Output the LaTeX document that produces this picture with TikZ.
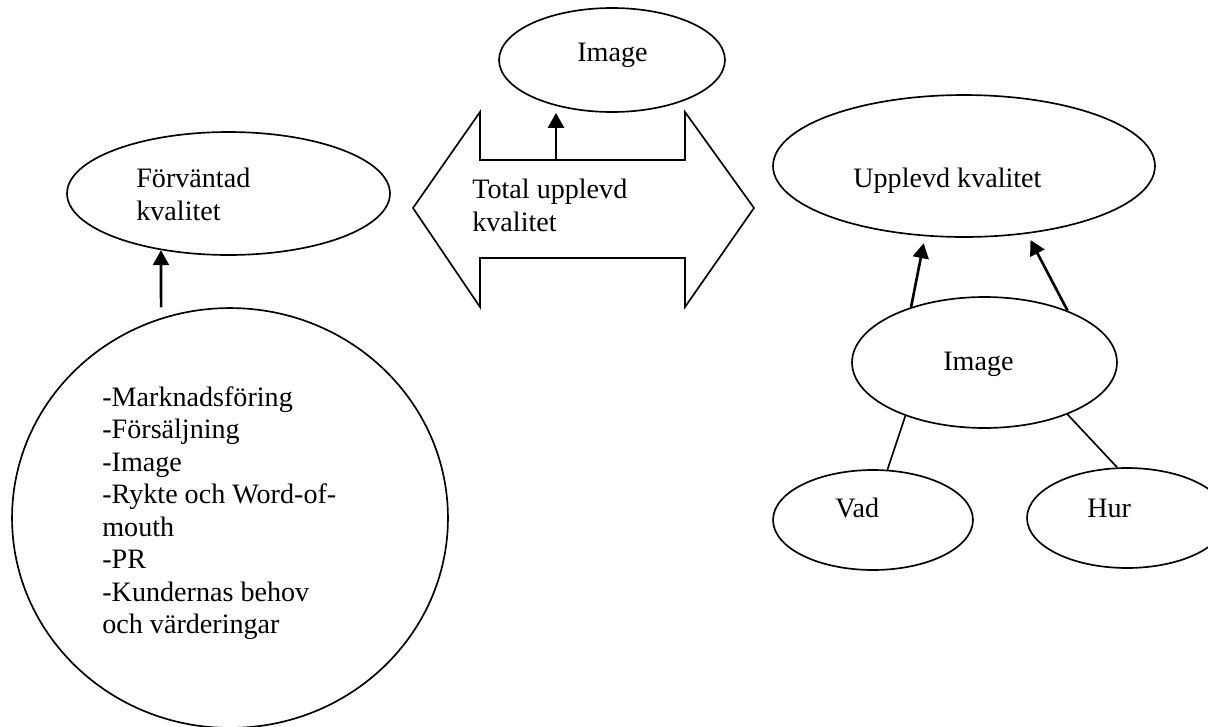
\documentclass[tikz,border=0pt]{standalone}
\usepackage{fontspec}
\setmainfont{Liberation Serif}
\usetikzlibrary{arrows.meta, shapes.geometric}

\begin{document}
\begin{tikzpicture}[x=0.02cm, y=-0.02cm,
  blob/.style={draw, ellipse, line width=0.95pt, inner sep=0pt},
  txt/.style={font=\fontsize{16pt}{18.5pt}\selectfont, inner sep=0pt, align=left},
  pil/.style={-{Triangle[length=8.5pt, width=9pt]}, line width=1.5pt},
  stem/.style={line width=0.95pt}]
  \useasboundingbox (0,0) rectangle (1208,727);

  % Left side ovals
  \node[blob, minimum width=6.46cm, minimum height=2.46cm] (forv) at (228.5,193.5) {};
  \node[blob, minimum width=8.72cm, minimum height=8.4cm] (faktor) at (230,518) {};

  \node[txt, anchor=north west] (forvText) at (136,168) {Förväntad\\kvalitet};
  \node[txt, anchor=north west] (faktorText) at (102,386)
    {-Marknadsföring\\-Försäljning\\-Image\\-Rykte och Word-of-\\mouth\\-PR\\-Kundernas behov\\och värderingar};

  % Double arrow in the middle
  \draw[line width=0.95pt] (413,208) -- (480,112) -- (480,160) -- (685,160)
    -- (685,112) -- (754,208) -- (685,307) -- (685,258) -- (480,258)
    -- (480,307) -- cycle;
  \coordinate (shaft) at (556,160);
  \node[txt, anchor=north west] (totalText) at (472,179) {Total upplevd\\kvalitet};

  \node[blob, minimum width=4.52cm, minimum height=2.08cm] (imgTop) at (612,60) {};
  \node[txt, anchor=base west] (imgTopText) at (577,61) {Image};

  % Right side ovals
  \node[blob, minimum width=7.64cm, minimum height=2.84cm] (upplevd) at (964,166) {};
  \node[blob, minimum width=5.3cm, minimum height=2.62cm] (img) at (984.5,362.5) {};
  \node[blob, minimum width=4cm, minimum height=2cm] (vad) at (873,520) {};
  \node[blob, minimum width=4cm, minimum height=2cm] (hur) at (1127,518) {};

  \node[txt, anchor=base west] (upplevdText) at (853,187) {Upplevd kvalitet};
  \node[txt, anchor=base west] (imgText) at (943,370) {Image};
  \node[txt, anchor=base west] (vadText) at (835,517) {Vad};
  \node[txt, anchor=base west] (hurText) at (1087,517) {Hur};

  % Arrows
  \draw[pil, shorten <=6pt] (faktor.109.4) -- (forv.220.5);
  \draw[pil] (shaft) -- (shaft |- imgTop.south);
  \draw[pil, shorten >=4pt] (img.143.8) -- (upplevd.241.7);
  \draw[pil, shorten >=4pt] (img.32) -- (upplevd.313.8);

  % Lines down to Vad / Hur
  \draw[stem] (img.214.1) -- (vad.74.4);
  \draw[stem] (img.328.5) -- (hur.101.8);
\end{tikzpicture}
\end{document}
